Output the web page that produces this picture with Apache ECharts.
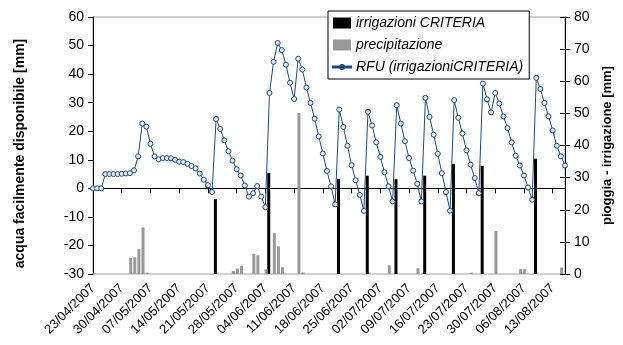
<!DOCTYPE html>
<html>
<head>
<meta charset="utf-8">
<script src="https://cdn.jsdelivr.net/npm/echarts@6/dist/echarts.min.js"></script>
<style>
  html, body { margin: 0; padding: 0; background: #fff; }
  #main { width: 623px; height: 345px; }
</style>
</head>
<body>
<div id="main"></div>
<script>
// daily categories from 23/04/2007, 116 days
var startDay = Date.UTC(2007, 3, 23);
var nDays = 116;
var days = [];
for (var i = 0; i < nDays; i++) {
    var d = new Date(startDay + i * 86400000);
    var dd = ('0' + d.getUTCDate()).slice(-2);
    var mm = ('0' + (d.getUTCMonth() + 1)).slice(-2);
    days.push(dd + '/' + mm + '/' + d.getUTCFullYear());
}

// RFU (irrigazioniCRITERIA), left axis [mm]
var rfu = [
    0, 0, 0, 5.0, 5.0, 5.0, 5.0, 5.1, 5.2, 5.3,
    6.3, 11.2, 22.7, 21.6, 15.6, 11.2, 10.2, 10.6, 10.6, 10.5,
    10.0, 9.3, 9.2, 8.6, 7.8, 7.0, 5.2, 3.0, 1.1, -1.3,
    24.3, 20.8, 16.8, 13.0, 9.7, 6.7, 4.5, 1.0, -2.9, -1.7,
    0.8, -2.9, -6.6, 33.4, 44.3, 50.9, 48.4, 43.3, 37.0, 31.3,
    45.4, 41.6, 35.3, 29.9, 24.4, 18.2, 12.2, 6.1, 0.7, -5.6,
    27.6, 21.5, 14.9, 8.1, 2.8, -2.3, -7.9, 26.8, 22.0, 16.1,
    11.0, 5.6, 0.7, -4.6, 29.1, 22.7, 16.5, 10.6, 6.2, 1.6,
    -4.6, 31.7, 25.0, 18.8, 12.1, 5.3, -1.3, -7.8, 30.9, 24.7,
    19.2, 13.3, 8.3, 3.6, -1.7, 36.7, 31.2, 26.6, 33.4, 29.7,
    25.2, 21.1, 16.1, 11.4, 8.0, 4.5, 0.3, -4.0, 38.7, 34.8,
    29.9, 25.2, 20.3, 14.9, 11.2, 8.0
];

// irrigazioni CRITERIA, right axis [mm]
var irrigazioni = [
    0, 0, 0, 0, 0, 0, 0, 0, 0, 0,
    0, 0, 0, 0, 0, 0, 0, 0, 0, 0,
    0, 0, 0, 0, 0, 0, 0, 0, 0, 0,
    23.3, 0, 0, 0, 0, 0, 0, 0, 0, 0,
    0, 0, 0, 31.4, 0, 0, 0, 0, 0, 0,
    0, 0, 0, 0, 0, 0, 0, 0, 0, 0,
    29.6, 0, 0, 0, 0, 0, 0, 30.6, 0, 0,
    0, 0, 0, 0, 29.5, 0, 0, 0, 0, 0,
    0, 30.6, 0, 0, 0, 0, 0, 0, 34.3, 0,
    0, 0, 0, 0, 0, 33.7, 0, 0, 0, 0,
    0, 0, 0, 0, 0, 0, 0, 0, 35.9, 0,
    0, 0, 0, 0, 0, 0
];

// precipitazione, right axis [mm]
var precipitazione = [
    0.3, 0, 0, 0, 0, 0, 0, 0, 0, 5.0,
    5.2, 7.7, 14.5, 0.4, 0, 0, 0, 0, 0, 0,
    0, 0, 0, 0, 0, 0, 0, 0, 0, 0,
    0, 0, 0, 0, 0.9, 1.7, 2.6, 0, 0, 6.3,
    5.8, 0, 1.5, 0, 12.7, 8.6, 2.1, 0, 0, 0,
    50.2, 0.5, 0, 0, 0, 0, 0, 0, 0, 0,
    0, 0, 0, 0, 0, 0, 0, 0, 0, 0,
    0, 0, 2.7, 0, 0, 0, 0, 0, 0, 1.8,
    0, 0, 0, 0, 0, 0, 0, 0, 0, 0,
    0, 0, 0.4, 0, 0, 0, 0, 0, 13.4, 0,
    0, 0, 0, 0, 1.5, 1.5, 0, 0, 0, 0,
    0, 0, 0, 0, 2.0, 0
];

var font = 'Liberation Sans, Arial, sans-serif';
var blue = '#1c4b7e';
var myChart = echarts.init(document.getElementById('main'));
var option = {
    animation: false,
    textStyle: { fontFamily: font },
    grid: {
        left: 93,
        right: 58,
        top: 17,
        bottom: 71,
        containLabel: false,
        outerBoundsMode: 'none',
        show: true,
        borderColor: '#a0a0a0',
        borderWidth: 1
    },
    legend: {
        orient: 'vertical',
        left: 328,
        top: 11,
        padding: [5, 6, 5, 4],
        itemGap: 8,
        itemWidth: 18,
        itemHeight: 11,
        borderColor: '#000',
        borderWidth: 1,
        backgroundColor: '#fff',
        textStyle: { fontStyle: 'italic', fontSize: 14, color: '#000', fontFamily: font },
        data: [
            { name: 'irrigazioni CRITERIA', icon: 'rect' },
            { name: 'precipitazione', icon: 'rect' },
            {
                name: 'RFU (irrigazioniCRITERIA)',
                icon: 'path://M0,5 L20,5 L20,6 L0,6 Z M10,3.3 A2.2,2.2 0 1,0 10,7.7 A2.2,2.2 0 1,0 10,3.3 Z'
            }
        ]
    },
    xAxis: {
        type: 'category',
        boundaryGap: false,
        data: days,
        axisLine: { lineStyle: { color: '#000', width: 1 } },
        axisTick: { interval: 6, length: 5, lineStyle: { color: '#000' } },
        axisLabel: {
            interval: 6,
            rotate: 45,
            fontSize: 13,
            color: '#000',
            margin: 12,
            fontFamily: font
        },
        splitLine: { show: false }
    },
    yAxis: [
        {
            type: 'value',
            min: -30,
            max: 60,
            interval: 10,
            name: 'acqua facilmente disponibile [mm]',
            nameLocation: 'middle',
            nameGap: 66,
            nameTextStyle: { fontWeight: 'bold', fontSize: 14, color: '#000', padding: [0, 16, 0, 0] },
            axisLine: { show: true, lineStyle: { color: '#000' } },
            axisTick: { show: true, length: 5, lineStyle: { color: '#000' } },
            axisLabel: { fontSize: 14, color: '#000', margin: 9 },
            splitLine: { show: false }
        },
        {
            type: 'value',
            position: 'right',
            min: 0,
            max: 80,
            interval: 10,
            name: 'pioggia - irrigazione [mm]',
            nameLocation: 'middle',
            nameGap: 34,
            nameRotate: 90,
            nameTextStyle: { fontWeight: 'bold', fontSize: 13, color: '#000' },
            axisLine: { show: true, lineStyle: { color: '#000' } },
            axisTick: { show: true, length: 5, lineStyle: { color: '#000' } },
            axisLabel: { fontSize: 14, color: '#000', margin: 9 },
            splitLine: { show: false }
        },
        {
            // inner half of the right axis ticks
            type: 'value',
            position: 'right',
            min: 0,
            max: 80,
            interval: 10,
            axisLine: { show: false },
            axisTick: { show: true, inside: true, length: 5, lineStyle: { color: '#000' } },
            axisLabel: { show: false },
            splitLine: { show: false }
        }
    ],
    series: [
        {
            name: 'irrigazioni CRITERIA',
            type: 'bar',
            yAxisIndex: 1,
            barWidth: 3,
            barGap: '-50%',
            itemStyle: { color: '#000' },
            data: irrigazioni
        },
        {
            name: 'precipitazione',
            type: 'bar',
            yAxisIndex: 1,
            barWidth: 3,
            itemStyle: { color: '#999999' },
            data: precipitazione
        },
        {
            name: 'RFU (irrigazioniCRITERIA)',
            type: 'line',
            yAxisIndex: 0,
            z: 5,
            symbol: 'circle',
            symbolSize: 5,
            showAllSymbol: true,
            lineStyle: { color: blue, width: 1 },
            itemStyle: { color: '#e4ecf5', borderColor: blue, borderWidth: 1 },
            data: rfu
        }
    ]
};
myChart.setOption(option);
</script>
</body>
</html>
